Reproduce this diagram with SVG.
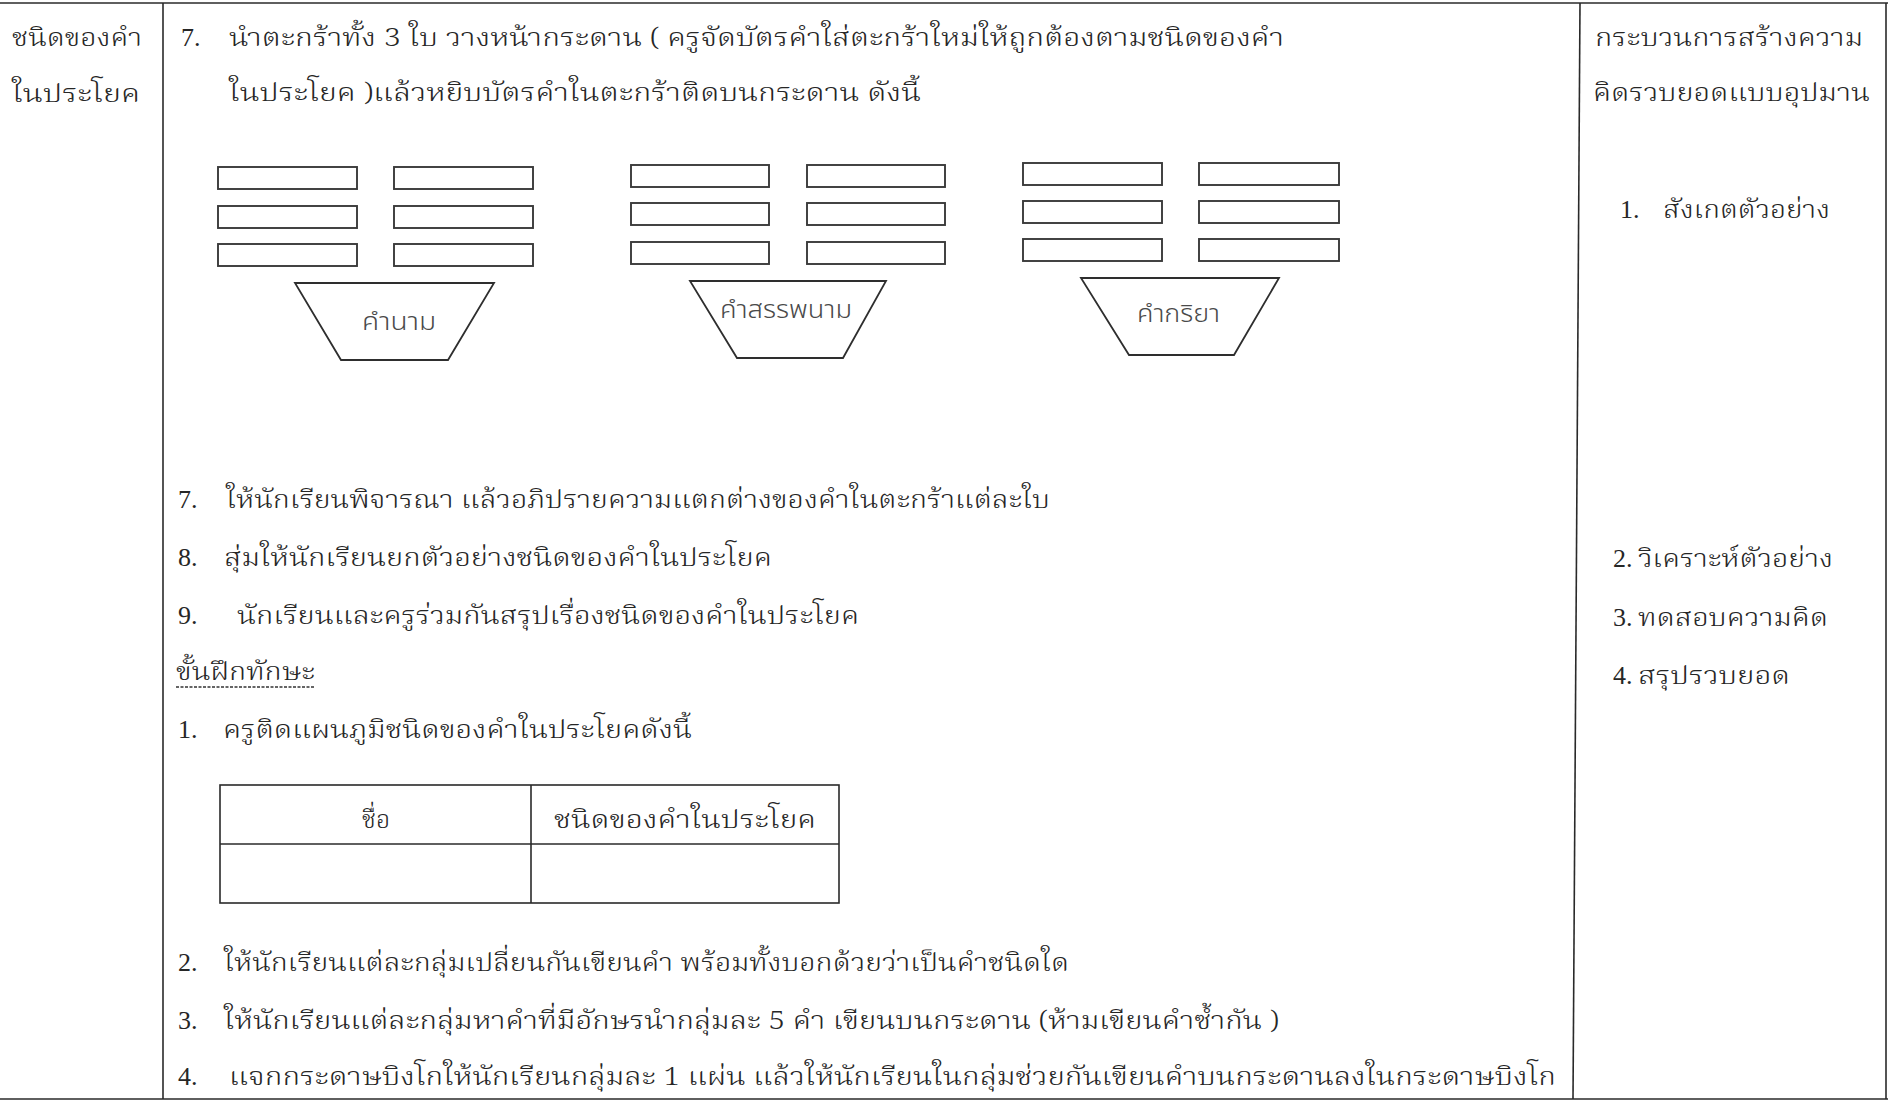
<svg xmlns="http://www.w3.org/2000/svg" width="1888" height="1104" viewBox="0 0 1888 1104">
<style>
  .t { font-family: 'Noto Serif Thai', 'Noto Sans Thai', 'Liberation Serif', 'DejaVu Serif', serif; font-size: 25px; font-weight: 300; fill: #262626; }
  .n { font-family: 'Liberation Serif', serif; font-size: 26px; fill: #262626; }
  .lbl { font-family: 'Noto Sans Thai', 'Liberation Sans', 'DejaVu Sans', sans-serif; font-size: 24px; font-weight: 300; fill: #4a4a4a; }
  .rule { stroke: #2a2a2a; stroke-width: 1.6; fill: none; }
  .card { fill: #fff; stroke: #3a3a3a; stroke-width: 1.9; }
  .basket { fill: #fff; stroke: #2e2e2e; stroke-width: 1.8; }
</style>
<rect width="1888" height="1104" fill="#fff"/>

<g id="frame">
  <line class="rule" x1="0" y1="3" x2="1888" y2="3" stroke="#777"/>
  <line class="rule" x1="0" y1="1099" x2="1888" y2="1099" stroke="#666"/>
  <line class="rule" x1="163" y1="3" x2="163" y2="1099"/>
  <line class="rule" x1="1580" y1="3" x2="1573" y2="1099"/>
  <line class="rule" x1="1886" y1="3" x2="1886" y2="1099"/>
</g>

<g id="topic">
  <text class="t" x="12" y="46" textLength="130" lengthAdjust="spacingAndGlyphs">ชนิดของคำ</text>
  <text class="t" x="12" y="102" textLength="128" lengthAdjust="spacingAndGlyphs">ในประโยค</text>
</g>

<g id="step-7-intro">
  <text class="n" x="181" y="46">7.</text>
  <text class="t" x="229" y="46" textLength="1055" lengthAdjust="spacingAndGlyphs">นำตะกร้าทั้ง 3 ใบ วางหน้ากระดาน ( ครูจัดบัตรคำใส่ตะกร้าใหม่ให้ถูกต้องตามชนิดของคำ</text>
  <text class="t" x="229" y="101" textLength="692" lengthAdjust="spacingAndGlyphs">ในประโยค )แล้วหยิบบัตรคำในตะกร้าติดบนกระดาน ดังนี้</text>
</g>

<g id="process-title">
  <text class="t" x="1595" y="46" textLength="268" lengthAdjust="spacingAndGlyphs">กระบวนการสร้างความ</text>
  <text class="t" x="1593" y="101" textLength="277" lengthAdjust="spacingAndGlyphs">คิดรวบยอดแบบอุปมาน</text>
  <text class="n" x="1620" y="218">1.</text>
  <text class="t" x="1663" y="218" textLength="167" lengthAdjust="spacingAndGlyphs">สังเกตตัวอย่าง</text>
</g>

<g id="basket-noun">
  <rect class="card" x="218" y="167" width="139" height="22"/>
  <rect class="card" x="394" y="167" width="139" height="22"/>
  <rect class="card" x="218" y="206" width="139" height="22"/>
  <rect class="card" x="394" y="206" width="139" height="22"/>
  <rect class="card" x="218" y="244" width="139" height="22"/>
  <rect class="card" x="394" y="244" width="139" height="22"/>
  <polygon class="basket" points="295,283 494,283 448,360 341,360"/>
  <text class="lbl" x="362" y="330" textLength="74" lengthAdjust="spacingAndGlyphs">คำนาม</text>
</g>

<g id="basket-pronoun">
  <rect class="card" x="631" y="165" width="138" height="22"/>
  <rect class="card" x="807" y="165" width="138" height="22"/>
  <rect class="card" x="631" y="203" width="138" height="22"/>
  <rect class="card" x="807" y="203" width="138" height="22"/>
  <rect class="card" x="631" y="242" width="138" height="22"/>
  <rect class="card" x="807" y="242" width="138" height="22"/>
  <polygon class="basket" points="690,281 886,281 843,358 737,358"/>
  <text class="lbl" x="720" y="318" textLength="132" lengthAdjust="spacingAndGlyphs">คำสรรพนาม</text>
</g>

<g id="basket-verb">
  <rect class="card" x="1023" y="163" width="139" height="22"/>
  <rect class="card" x="1199" y="163" width="140" height="22"/>
  <rect class="card" x="1023" y="201" width="139" height="22"/>
  <rect class="card" x="1199" y="201" width="140" height="22"/>
  <rect class="card" x="1023" y="239" width="139" height="22"/>
  <rect class="card" x="1199" y="239" width="140" height="22"/>
  <polygon class="basket" points="1081,278 1279,278 1234,355 1129,355"/>
  <text class="lbl" x="1137" y="322" textLength="83" lengthAdjust="spacingAndGlyphs">คำกริยา</text>
</g>

<g id="steps-7-9">
  <text class="n" x="178" y="508">7.</text>
  <text class="t" x="226" y="508" textLength="824" lengthAdjust="spacingAndGlyphs">ให้นักเรียนพิจารณา แล้วอภิปรายความแตกต่างของคำในตะกร้าแต่ละใบ</text>
  <text class="n" x="178" y="566">8.</text>
  <text class="t" x="224" y="566" textLength="548" lengthAdjust="spacingAndGlyphs">สุ่มให้นักเรียนยกตัวอย่างชนิดของคำในประโยค</text>
  <text class="n" x="178" y="624">9.</text>
  <text class="t" x="237" y="624" textLength="622" lengthAdjust="spacingAndGlyphs">นักเรียนและครูร่วมกันสรุปเรื่องชนิดของคำในประโยค</text>
</g>

<g id="process-steps">
  <text class="n" x="1613" y="567">2.</text>
  <text class="t" x="1638" y="567" textLength="195" lengthAdjust="spacingAndGlyphs">วิเคราะห์ตัวอย่าง</text>
  <text class="n" x="1613" y="626">3.</text>
  <text class="t" x="1638" y="626" textLength="190" lengthAdjust="spacingAndGlyphs">ทดสอบความคิด</text>
  <text class="n" x="1613" y="684">4.</text>
  <text class="t" x="1638" y="684" textLength="152" lengthAdjust="spacingAndGlyphs">สรุปรวบยอด</text>
</g>

<g id="practice-heading">
  <text class="t" x="176" y="680" textLength="139" lengthAdjust="spacingAndGlyphs">ขั้นฝึกทักษะ</text>
  <line x1="176" y1="687" x2="315" y2="687" stroke="#333" stroke-width="1.4" stroke-dasharray="3 1.5"/>
  <text class="n" x="178" y="738">1.</text>
  <text class="t" x="223" y="738" textLength="469" lengthAdjust="spacingAndGlyphs">ครูติดแผนภูมิชนิดของคำในประโยคดังนี้</text>
</g>

<g id="chart-table">
  <rect class="rule" x="220" y="785" width="619" height="118"/>
  <line class="rule" x1="220" y1="844" x2="839" y2="844"/>
  <line class="rule" x1="531" y1="785" x2="531" y2="903"/>
  <text class="t" x="376" y="828" text-anchor="middle">ชื่อ</text>
  <text class="t" x="554" y="828" textLength="262" lengthAdjust="spacingAndGlyphs">ชนิดของคำในประโยค</text>
</g>

<g id="practice-steps">
  <text class="n" x="178" y="971">2.</text>
  <text class="t" x="224" y="971" textLength="845" lengthAdjust="spacingAndGlyphs">ให้นักเรียนแต่ละกลุ่มเปลี่ยนกันเขียนคำ พร้อมทั้งบอกด้วยว่าเป็นคำชนิดใด</text>
  <text class="n" x="178" y="1029">3.</text>
  <text class="t" x="224" y="1029" textLength="1055" lengthAdjust="spacingAndGlyphs">ให้นักเรียนแต่ละกลุ่มหาคำที่มีอักษรนำกลุ่มละ 5 คำ เขียนบนกระดาน (ห้ามเขียนคำซ้ำกัน )</text>
  <text class="n" x="178" y="1085">4.</text>
  <text class="t" x="229" y="1085" textLength="1327" lengthAdjust="spacingAndGlyphs">แจกกระดาษบิงโกให้นักเรียนกลุ่มละ 1 แผ่น แล้วให้นักเรียนในกลุ่มช่วยกันเขียนคำบนกระดานลงในกระดาษบิงโก</text>
</g>
</svg>
